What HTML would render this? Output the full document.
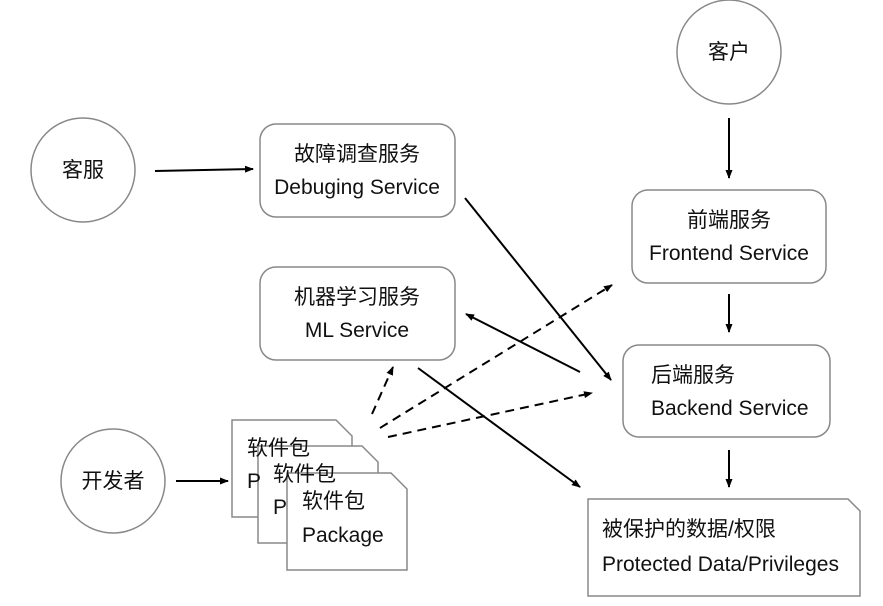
<!DOCTYPE html>
<html><head><meta charset="utf-8"><style>
html,body{margin:0;padding:0;background:#fff;}
svg{display:block;}
text{font-family:"Liberation Sans","Noto Sans CJK SC",sans-serif;font-size:21px;fill:#111;}
</style></head><body>
<svg width="883" height="606" viewBox="0 0 883 606" xmlns="http://www.w3.org/2000/svg">
<defs>
<marker id="a" markerWidth="9" markerHeight="7" refX="8" refY="3.5" orient="auto" markerUnits="userSpaceOnUse">
<path d="M0,0 L9,3.5 L0,7 Z" fill="#000"/></marker>
</defs>
<g fill="#fff" stroke="#888" stroke-width="1.5">
<circle cx="83" cy="170" r="52"/>
<circle cx="729" cy="52" r="52"/>
<circle cx="113" cy="481" r="52"/>
<rect x="260" y="124" width="195" height="93" rx="16"/>
<rect x="260" y="267" width="195" height="93" rx="16"/>
<rect x="632" y="190" width="194" height="93" rx="16"/>
<rect x="623" y="345" width="207" height="92" rx="16"/>
<path d="M232,420 H336 L352,436 V517 H232 Z"/>
<path d="M258,446 H362 L378,462 V543 H258 Z"/>
<path d="M287,473 H391 L407,489 V570 H287 Z"/>
<path d="M588,499 H848 L860,511 V596 H588 Z"/>
</g>
<g stroke="#000" stroke-width="2" fill="none">
<line x1="155" y1="171" x2="253" y2="169" marker-end="url(#a)"/>
<line x1="729" y1="118" x2="729" y2="178" marker-end="url(#a)"/>
<line x1="729" y1="294" x2="729" y2="332" marker-end="url(#a)"/>
<line x1="729" y1="450" x2="729" y2="487" marker-end="url(#a)"/>
<line x1="465" y1="198" x2="611" y2="380" marker-end="url(#a)"/>
<line x1="580" y1="372" x2="466" y2="314" marker-end="url(#a)"/>
<line x1="418" y1="368" x2="580" y2="487" marker-end="url(#a)"/>
<line x1="176" y1="481" x2="228" y2="481" marker-end="url(#a)"/>
<g stroke-dasharray="9,6">
<line x1="372" y1="414" x2="393" y2="367" marker-end="url(#a)"/>
<line x1="380" y1="428" x2="612" y2="285" marker-end="url(#a)"/>
<line x1="388" y1="437" x2="592" y2="393" marker-end="url(#a)"/>
</g>
</g>
<g text-anchor="middle">
<text x="83" y="177">客服</text>
<text x="729" y="59">客户</text>
<text x="113" y="488">开发者</text>
<text x="357" y="161">故障调查服务</text>
<text x="357" y="194">Debuging Service</text>
<text x="357" y="304">机器学习服务</text>
<text x="357" y="337">ML Service</text>
<text x="729" y="227">前端服务</text>
<text x="729" y="260">Frontend Service</text>
</g>
<text x="651" y="382">后端服务</text>
<text x="651" y="415">Backend Service</text>
<text x="602" y="536">被保护的数据/权限</text>
<text x="602" y="571">Protected Data/Privileges</text>
<text x="247" y="455">软件包</text>
<text x="247" y="488">P</text>
<text x="273" y="481">软件包</text>
<text x="273" y="514">P</text>
<text x="302" y="508">软件包</text>
<text x="302" y="542">Package</text>
</svg>
</body></html>
